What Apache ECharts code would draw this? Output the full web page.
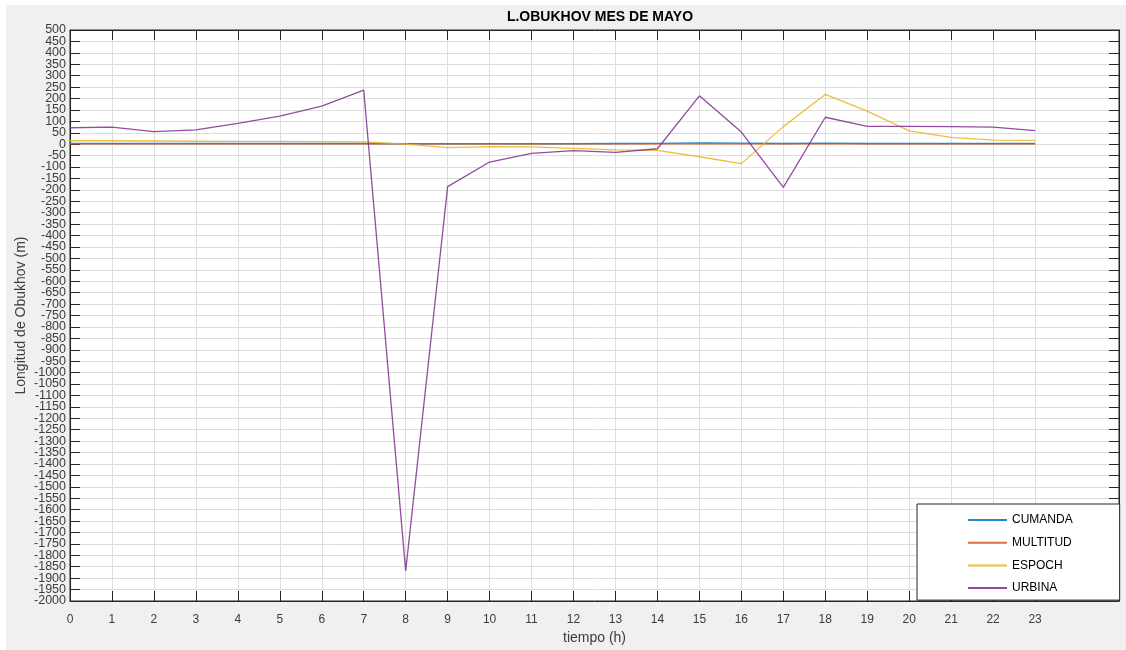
<!DOCTYPE html>
<html>
<head>
<meta charset="utf-8">
<script src="https://cdn.jsdelivr.net/npm/echarts@6/dist/echarts.min.js"></script>
<style>
  html, body { margin: 0; padding: 0; background: #ffffff; }
  #chart { position: absolute; left: 6px; top: 5px; width: 1120px; height: 645px; }
</style>
</head>
<body>
<div id="chart"></div>
<script>
// Hourly Obukhov length (m) for May, four stations
const hours = [0,1,2,3,4,5,6,7,8,9,10,11,12,13,14,15,16,17,18,19,20,21,22,23];
const cumanda  = [3,3,3,3,3,3,3,3,2,2,2,2,2,3,4,6,5,3,5,3,3,3,3,3];
const multitud = [2,2,2,2,2,2,2,2,1,1,1,1,1,1,1,1,1,1,1,1,1,1,1,1];
const espoch   = [15,15,14,13,12,12,11,10,0,-15,-11,-12,-18,-25,-27,-55,-85,77,218,145,58,30,18,17];
const urbina   = [72,75,55,63,91,123,167,237,-1868,-186,-78,-40,-28,-36,-20,212,53,-189,118,78,78,77,75,59];

const seriesNames = ['CUMANDA', 'MULTITUD', 'ESPOCH', 'URBINA'];
const seriesData = [cumanda, multitud, espoch, urbina];
const seriesColors = ['#0072BD', '#D95319', '#EDB120', '#7E2F8E'];

const X_MIN = 0, X_MAX = 25;
const Y_MIN = -2000, Y_MAX = 500, Y_STEP = 50;

// y tick labels every 50 m, split into two interleaved sets so that
// the tightly packed labels are all kept (none dropped as overlapping)
const yTicksA = [], yTicksB = [];
for (let v = Y_MIN, k = 0; v <= Y_MAX; v += Y_STEP, k++) {
  (k % 2 === 0 ? yTicksA : yTicksB).push(v);
}

const axisInk = '#262626';
const labelInk = '#3c3c3c';
const gridInk = '#dedede';
const fontFamily = '"Liberation Sans", Arial, Helvetica, sans-serif';

// vertical grid lines only where hour ticks exist
const xGridColors = [];
for (let v = X_MIN; v <= X_MAX; v++) {
  xGridColors.push(hours.indexOf(v) >= 0 ? gridInk : 'rgba(0,0,0,0)');
}

const yLabelStyle = {
  fontSize: 12.5, color: labelInk, margin: 4, fontFamily: fontFamily,
  showMinLabel: true, showMaxLabel: true, hideOverlap: false,
  formatter: function (v) { return String(v); }
};

const chart = echarts.init(document.getElementById('chart'), null, { renderer: 'canvas' });

const option = {
  animation: false,
  backgroundColor: '#f0f0f0',
  textStyle: { fontFamily: fontFamily },
  title: {
    text: 'L.OBUKHOV MES DE MAYO',
    left: 589, top: 0,
    textAlign: 'center',
    textStyle: { fontSize: 14, fontWeight: 'bold', color: '#000', fontFamily: fontFamily }
  },
  grid: {
    left: 64, top: 25, right: 7, bottom: 49,
    outerBoundsMode: 'none',
    containLabel: false,
    show: true, backgroundColor: '#ffffff',
    borderColor: axisInk, borderWidth: 1
  },
  legend: {
    orient: 'vertical',
    left: 911, top: 499,
    data: seriesNames,
    backgroundColor: '#ffffff',
    borderColor: axisInk, borderWidth: 1,
    padding: [10, 47, 6, 50],
    itemWidth: 39, itemHeight: 14, itemGap: 10.7,
    itemStyle: { opacity: 0 },
    textStyle: { fontSize: 12, color: '#000', fontFamily: fontFamily }
  },
  xAxis: [
    {
      type: 'value', min: X_MIN, max: X_MAX, interval: 1,
      name: 'tiempo (h)', nameLocation: 'middle', nameGap: 30,
      nameMoveOverlap: false,
      nameTextStyle: { fontSize: 14, color: labelInk, fontFamily: fontFamily },
      axisLine: { show: true, onZero: false, lineStyle: { color: axisInk, width: 1 } },
      axisTick: { show: true, inside: true, length: 10, customValues: hours, lineStyle: { color: axisInk } },
      axisLabel: { customValues: hours, fontSize: 12, color: labelInk, margin: 13, fontFamily: fontFamily },
      splitLine: { show: true, lineStyle: { color: xGridColors, width: 1 } }
    },
    {
      type: 'value', min: X_MIN, max: X_MAX, interval: 1, position: 'top',
      axisLine: { show: true, onZero: false, lineStyle: { color: axisInk, width: 1 } },
      axisTick: { show: true, inside: true, length: 10, customValues: hours, lineStyle: { color: axisInk } },
      axisLabel: { show: false },
      splitLine: { show: false }
    }
  ],
  yAxis: [
    {
      type: 'value', min: Y_MIN, max: Y_MAX, interval: Y_STEP, position: 'left', offset: 0,
      name: 'Longitud de Obukhov (m)', nameLocation: 'middle', nameGap: 42, nameRotate: 90,
      nameMoveOverlap: false,
      nameTextStyle: { fontSize: 14, color: labelInk, fontFamily: fontFamily },
      axisLine: { show: true, onZero: false, lineStyle: { color: axisInk, width: 1 } },
      axisTick: { show: true, inside: true, length: 10, lineStyle: { color: axisInk } },
      axisLabel: Object.assign({ customValues: yTicksA }, yLabelStyle),
      splitLine: { show: true, lineStyle: { color: gridInk, width: 1 } }
    },
    {
      type: 'value', min: Y_MIN, max: Y_MAX, interval: Y_STEP, position: 'right',
      axisLine: { show: true, onZero: false, lineStyle: { color: axisInk, width: 1 } },
      axisTick: { show: true, inside: true, length: 10, lineStyle: { color: axisInk } },
      axisLabel: { show: false },
      splitLine: { show: false }
    },
    {
      type: 'value', min: Y_MIN, max: Y_MAX, interval: Y_STEP, position: 'left', offset: 0,
      axisLine: { show: false, onZero: false },
      axisTick: { show: false },
      axisLabel: Object.assign({ customValues: yTicksB }, yLabelStyle),
      splitLine: { show: false }
    }
  ],
  series: seriesNames.map(function (name, i) {
    return {
      name: name,
      type: 'line',
      xAxisIndex: 0, yAxisIndex: 0,
      data: hours.map(function (h, k) { return [h, seriesData[i][k]]; }),
      symbol: 'none',
      color: seriesColors[i],
      lineStyle: { color: seriesColors[i], width: 1.3, opacity: 0.85 }
    };
  })
};

chart.setOption(option);
</script>
</body>
</html>
